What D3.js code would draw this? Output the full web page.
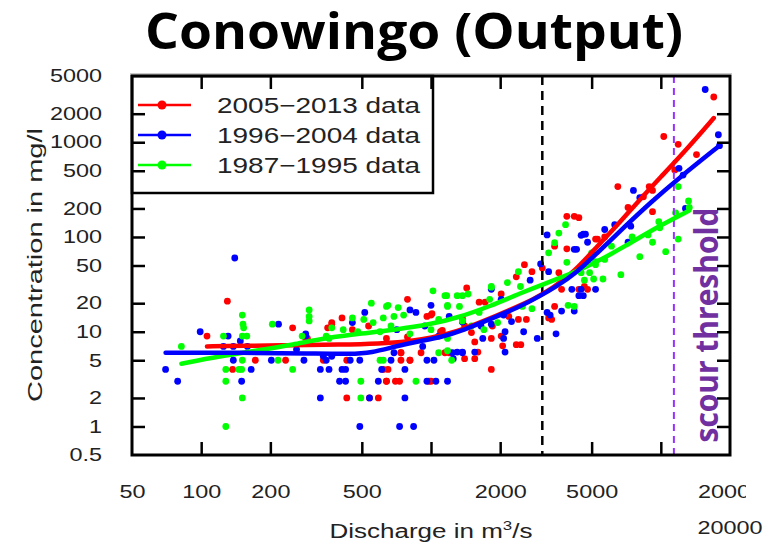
<!DOCTYPE html>
<meta charset="utf-8">
<script src="https://d3js.org/d3.v7.min.js"></script>
<title>Conowingo (Output)</title>
<style>
  body { margin: 0; background: #fff; }
  text { font-family: "Liberation Sans", Arial, sans-serif; }
</style>
<body>
<script>

// discharge (m3/s), concentration (mg/l)
var data2005 = [[106,9],[130,21],[137,4],[172,5],[233,5],[250,11],[285,8.5],[290,8.5],[340,5],[355,11],[370,12.5],[370,12],
  [410,14],[430,2],[430,5],[455,10.5],[535,11.5],[540,2],[590,2],[620,4],[640,8.5],[640,3],[650,4],[730,3],[740,6],[790,22],
  [790,8.8],[810,5],[960,14.5],[980,3],[1010,15.5],[1120,10.3],[1150,6],[1000,15],[1100,10],[1370,14],[1400,11.5],[1430,29],
  [1400,5.2],[1500,9.8],[1550,7.8],[1550,5.2],[1600,6.1],[1620,20.5],[1720,20.5],[1830,8.5],[1830,4],[1850,11.5],[2020,25],
  [2020,9],[2050,7.1],[2180,14.5],[2350,38],[2350,7.3],[2400,13.5],[2460,7.3],[2550,51],[2600,13.5],[2750,43],[3050,47],
  [3250,14],[3350,13.5],[3450,80],[3450,18.5],[3600,42],[3700,28],[3900,165],[3900,75],[4200,165],[4400,160],[4400,28],
  [4650,30],[4800,28],[5200,95],[5300,95],[5700,100],[6500,340],[7200,205],[8400,265],[8900,340],[9200,310],[9200,185],
  [10300,1150],[11500,510],[11900,950],[14300,740],[17000,3000],[740,5],[810,5],[905,6],[740,6],[1200,6],[640,3],[700,3],[1000,3]];

var data1996 = [[70,4],[79,3],[99,10],[125,7],[131,9],[138,7],[138,5],[140,60],[148,8],[150,3],[159,7],[165,4],[202,5],[217,12],
  [260,6.5],[280,5],[285,9.5],[285,9],[330,4],[330,2],[340,5.5],[350,5],[360,4],[370,5.5],[400,3],[410,4],[425,4],[425,3],
  [445,5],[455,12.5],[490,5],[490,1],[515,16],[540,2],[590,3],[610,4],[670,5],[710,10.5],[730,1],[770,4],[770,2],[810,17],
  [840,1],[860,16],[920,7],[940,11.5],[960,5],[960,3],[1000,19],[1030,5],[1050,3],[1080,9],[1180,3],[1200,14.5],[1250,5.2],
  [1300,6.1],[1370,12.7],[1370,6.1],[1550,6.1],[1650,11.5],[1680,8.5],[1830,28],[1830,12],[2020,22],[2070,8.5],[2070,15],
  [2100,10],[2100,6.1],[2240,12.8],[2530,10],[2700,35],[2900,8.5],[3000,52],[3200,105],[3200,16],[3250,43],[3300,15],
  [3500,9.5],[3700,16.5],[4100,28],[4200,74],[4200,16.5],[4300,74],[4400,24],[4500,104],[4500,28],[4600,24],[4600,107],
  [4700,107],[4800,88],[5200,28],[5700,120],[6300,135],[7200,88],[7400,130],[7600,310],[8100,260],[12000,530],[12500,450],
  [12800,200],[15600,3600],[17800,1200],[18000,920],[690,6],[1240,6],[1370,6]];

var data1987 = [[82,7],[125,9],[128,4],[128,3],[128,1],[146,4],[150,4],[151,15],[151,9],[151,5],[151,2],[152,12],[153,11],
  [158,9],[204,12],[216,5],[250,4],[275,9],[295,17],[295,14.5],[295,13],[350,9],[360,8.5],[370,11],[415,10.5],[455,14],
  [480,10],[495,3],[495,2],[510,13.5],[550,20],[560,12.5],[600,10],[600,5],[620,14],[640,18.5],[650,19],[670,11.5],
  [690,14.5],[720,18],[760,15],[810,9.5],[860,3],[1000,10.5],[1020,27],[1080,13.5],[1080,6],[1150,24],[1170,24],
  [1180,18.5],[1180,8.5],[1180,6.3],[1180,19],[1300,24],[1330,18.5],[1370,13],[1370,24],[1450,25],[1500,11.5],[1620,16],
  [1700,10.5],[1800,22],[1830,29.5],[1830,30],[1950,12.5],[2150,33],[2400,43],[2450,30],[2500,18.5],[2750,17.5],
  [3250,68],[3450,87],[3600,110],[3850,135],[3900,54],[3950,19],[4200,18.5],[4500,42],[4650,35],[4900,42],[5000,68],
  [5100,36],[5200,55],[5200,51],[5600,36],[5700,58],[6100,80],[6700,40],[7500,100],[8100,62],[8800,105],[9200,88],
  [9800,145],[9900,125],[10500,70],[11600,180],[11900,340],[11900,95],[13200,240],[13300,205],[620,5],[1230,5]];

// smoothed curves
var fit2005 = [[106,7],[150,7.1],[250,7.2],[400,7.3],[600,7.5],[800,7.9],[1000,8.6],[1300,10],[1700,13],[2200,17],
  [2800,22],[3400,29],[4200,43],[5300,80],[6500,135],[8000,240],[10000,430],[13000,850],[17000,1800]];
var fit1996 = [[70,6],[150,6],[300,5.9],[450,5.8],[550,6],[700,7],[900,8],[1100,8.7],[1400,10.5],[1800,13.5],[2400,18],
  [3000,24],[3500,30],[4200,40],[5300,68],[7000,130],[9000,230],[12000,420],[18000,920]];
var fit1987 = [[82,4.6],[120,5.5],[180,6.4],[250,7.3],[350,8.6],[500,9.6],[700,10.5],[1000,12],[1300,14],[1800,18.5],
  [2500,26],[3000,31],[4200,42],[5300,55],[7000,80],[9500,125],[13300,190]];

var seriesNames = ["2005\u22122013 data", "1996\u22122004 data", "1987\u22121995 data"];
var seriesColors = ["#ff0000", "#0000ff", "#00ff00"];

var xTicks = [100, 200, 500, 1000, 2000, 5000, 10000];
var xLabels = [50, 100, 200, 500, 2000, 5000, 20000];
var yTicks = [1, 2, 5, 10, 20, 50, 100, 200, 500, 1000, 2000];
var yLabels = [0.5, 1, 2, 5, 10, 20, 50, 100, 200, 500, 1000, 2000, 5000];

var gaugeLine = 3050;   // black dashed
var scourLine = 11400;  // purple dashed

var width = 768, height = 547;
var margin = {top: 76, right: 38, bottom: 92, left: 132};

var x = d3.scaleLog().domain([50, 20000]).range([margin.left, width - margin.right]);
var y = d3.scaleLog().domain([0.5, 5000]).range([height - margin.bottom, margin.top]);

var svg = d3.select("body").append("svg")
    .attr("width", width)
    .attr("height", height);

// stretch text horizontally, the source picture is widened
function stretch(sel, k) {
  sel.each(function() {
    var w = this.getComputedTextLength();
    d3.select(this).attr("textLength", w * k).attr("lengthAdjust", "spacingAndGlyphs");
  });
}

// title
svg.append("text")
    .attr("x", 414)
    .attr("y", 49)
    .attr("text-anchor", "middle")
    .style("font-family", "'Open Sans', sans-serif")
    .style("font-weight", "bold")
    .style("font-size", "51px")
    .attr("textLength", 538)
    .attr("lengthAdjust", "spacingAndGlyphs")
    .text("Conowingo (Output)");

svg.append("line")
    .attr("x1", 130).attr("x2", 732)
    .attr("y1", 73.5).attr("y2", 73.5)
    .style("stroke", "#c8c8c8")
    .style("stroke-width", 1);

// points
var allData = [data2005, data1996, data1987];
var allFits = [fit2005, fit1996, fit1987];

var pts = svg.append("g");
allData.forEach(function(d, i) {
  pts.selectAll(null)
      .data(d)
      .enter().append("circle")
      .attr("cx", function(p) { return x(p[0]); })
      .attr("cy", function(p) { return y(p[1]); })
      .attr("r", 3.4)
      .style("fill", seriesColors[i]);
});

// vertical lines
svg.append("line")
    .attr("x1", x(gaugeLine)).attr("x2", x(gaugeLine))
    .attr("y1", y(5000)).attr("y2", y(0.5))
    .style("stroke", "#000")
    .style("stroke-width", 2.5)
    .style("stroke-dasharray", "9,6");

svg.append("line")
    .attr("x1", x(scourLine)).attr("x2", x(scourLine))
    .attr("y1", y(5000)).attr("y2", y(0.5))
    .style("stroke", "#9a30ff")
    .style("stroke-width", 2)
    .style("stroke-dasharray", "7,5");

// fitted curves
var line = d3.line()
    .x(function(p) { return x(p[0]); })
    .y(function(p) { return y(p[1]); })
    .curve(d3.curveBasis);

[0, 2, 1].forEach(function(i) {
  svg.append("path")
      .datum(allFits[i])
      .attr("d", line)
      .style("fill", "none")
      .style("stroke", seriesColors[i])
      .style("stroke-width", 4.5)
      .style("stroke-linecap", "round");
});

// scour threshold label
svg.append("text")
    .attr("transform", "translate(718,325) rotate(-90)")
    .attr("text-anchor", "middle")
    .style("font-family", "'Open Sans', sans-serif")
    .style("font-weight", "bold")
    .style("font-size", "32px")
    .style("fill", "#7030a0")
    .attr("textLength", 235)
    .attr("lengthAdjust", "spacingAndGlyphs")
    .text("scour threshold");

// legend
var legend = svg.append("g");
legend.append("rect")
    .attr("x", margin.left).attr("y", margin.top)
    .attr("width", 301).attr("height", 117)
    .style("fill", "#fff")
    .style("stroke", "#000")
    .style("stroke-width", 2.5);

seriesNames.forEach(function(name, i) {
  var ly = 105 + i * 30;
  legend.append("line")
      .attr("x1", 138).attr("x2", 191)
      .attr("y1", ly).attr("y2", ly)
      .style("stroke", seriesColors[i])
      .style("stroke-width", 2.5);
  legend.append("circle")
      .attr("cx", 162).attr("cy", ly).attr("r", 4.5)
      .style("fill", seriesColors[i]);
  legend.append("text")
      .attr("x", 217).attr("y", ly + 8)
      .style("font-size", "22px")
      .style("fill", "#222")
      .attr("textLength", 203)
      .attr("lengthAdjust", "spacingAndGlyphs")
      .text(name);
});

// ticks on all four sides, pointing in
function tickAxis(axis, tr) {
  var g = svg.append("g").attr("transform", tr).call(axis);
  g.select(".domain").remove();
  g.selectAll("line").style("stroke", "#000").style("stroke-width", 2.5);
  return g;
}
tickAxis(d3.axisBottom(x).tickValues(xTicks).tickSizeInner(-13).tickSizeOuter(0).tickFormat(""),
  "translate(0," + y(0.5) + ")");
tickAxis(d3.axisTop(x).tickValues(xTicks).tickSizeInner(-13).tickSizeOuter(0).tickFormat(""),
  "translate(0," + y(5000) + ")");
tickAxis(d3.axisLeft(y).tickValues(yTicks).tickSizeInner(-13).tickSizeOuter(0).tickFormat(""),
  "translate(" + x(50) + ",0)");
tickAxis(d3.axisRight(y).tickValues(yTicks).tickSizeInner(-13).tickSizeOuter(0).tickFormat(""),
  "translate(" + x(20000) + ",0)");

// box
svg.append("rect")
    .attr("x", x(50)).attr("y", y(5000))
    .attr("width", x(20000) - x(50)).attr("height", y(0.5) - y(5000))
    .style("fill", "none")
    .style("stroke", "#000")
    .style("stroke-width", 3);

// tick labels
svg.append("clipPath").attr("id", "xclip")
  .append("rect").attr("x", 0).attr("y", 0).attr("width", 746).attr("height", height);

var xl = svg.append("g")
    .attr("transform", "translate(0," + y(0.5) + ")")
    .attr("clip-path", "url(#xclip)")
    .call(d3.axisBottom(x).tickValues(xLabels).tickSize(0).tickPadding(30).tickFormat(d3.format("d")));
xl.select(".domain").remove();
xl.selectAll("text").style("font-size", "18px").style("fill", "#222")
    .style("font-family", "'Liberation Sans', Arial, sans-serif").call(stretch, 1.3);

var yl = svg.append("g")
    .attr("transform", "translate(" + x(50) + ",0)")
    .call(d3.axisLeft(y).tickValues(yLabels).tickSize(0).tickPadding(30).tickFormat(function(d) { return d; }));
yl.select(".domain").remove();
yl.selectAll("text").style("font-size", "18px").style("fill", "#222")
    .style("font-family", "'Liberation Sans', Arial, sans-serif").call(stretch, 1.3);

// extra label under the axis
svg.append("text")
    .attr("x", 730).attr("y", 534)
    .attr("text-anchor", "middle")
    .style("font-size", "18px")
    .style("fill", "#222")
    .text("20000")
    .call(stretch, 1.3);

// axis titles
var xt = svg.append("text")
    .attr("x", 431).attr("y", 538)
    .attr("text-anchor", "middle")
    .style("font-size", "20px")
    .style("fill", "#222");
xt.append("tspan").text("Discharge in m");
xt.append("tspan").attr("dy", -8).style("font-size", "13px").text("3");
xt.append("tspan").attr("dy", 8).text("/s");
xt.call(stretch, 1.3);

svg.append("text")
    .attr("transform", "translate(42,265) rotate(-90)")
    .attr("text-anchor", "middle")
    .style("font-size", "20px")
    .style("fill", "#222")
    .attr("textLength", 274)
    .attr("lengthAdjust", "spacingAndGlyphs")
    .text("Concentration in mg/l");

</script>
</body>
